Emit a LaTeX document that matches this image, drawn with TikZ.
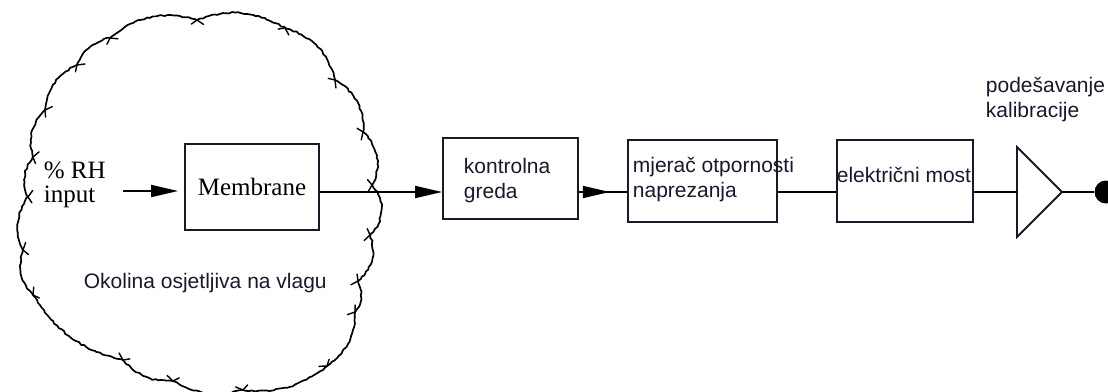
\documentclass[tikz,border=0pt]{standalone}
\usepackage{fontspec}
\setmainfont{Liberation Serif}
\newfontfamily\sansfam{Liberation Sans}
\usetikzlibrary{arrows.meta,calc,decorations.pathmorphing}
\definecolor{ink}{RGB}{25,25,45}
\begin{document}
\begin{tikzpicture}[x=1pt,y=-1pt,
  line width=1.8pt,
  boxnode/.style={draw=ink, inner sep=0pt, rectangle},
  sanstxt/.style={text=ink, inner sep=0pt, font=\sansfam\fontsize{21}{25}\selectfont, align=left},
  seriftxt/.style={text=black, inner sep=0pt, font=\fontsize{25}{24}\selectfont, align=left},
  arr/.style={-{Triangle[length=27pt,width=12pt]}},
  cloudline/.style={line width=1.7pt, draw=black, line join=round, decorate, decoration={random steps, segment length=3pt, amplitude=0.8pt}},
  tick/.style={line width=1.4pt, line cap=round}]
\useasboundingbox (0,0) rectangle (1108,391);
\fill[white] (0,0) rectangle (1108,391);
\pgfmathsetseed{11}
% cloud: arcs between cusps
\draw[cloudline]
 (110,38) to[bend left=28] (197,20) to[bend left=25] (285,28) to[bend left=30] (335,80)
 to[bend left=32] (363,132) to[bend left=38] (372,185) to[bend left=45] (370,235)
 to[bend left=35] (358,281) to[bend left=30] (355,312) to[bend left=28] (327,366)
 to[bend left=22] (243,390) to[bend left=22] (173,381) to[bend left=25] (123,360)
 to[bend left=22] (33,295) to[bend left=30] (23,250) to[bend left=30] (28,197)
 to[bend left=30] (33,157) to[bend left=30] (45,110) to[bend left=30] (77,65)
 to[bend left=28] (110,38);
% ticks at the cusps
\foreach \px/\py in {110/38, 197/20, 285/28, 335/80, 363/132, 372/185, 370/235, 358/281,
  355/312, 327/366, 243/390, 173/381, 123/360, 33/295, 23/250, 28/197, 33/157, 45/110, 77/65} {
  \pgfmathsetmacro\ang{atan2(\py-200,\px-200)}
  \draw[tick] (\px,\py) -- ++(\ang+125:8);
  \draw[tick] (\px,\py) -- ++(\ang-125:7);
}
% boxes
\node[boxnode, minimum width=134pt, minimum height=86pt, font=\fontsize{25}{25}\selectfont] (mem) at (252,187) {Membrane};
\node[boxnode, minimum width=135pt, minimum height=81pt] (kg) at (510.5,178.5) {};
\node[boxnode, minimum width=149pt, minimum height=82pt] (mj) at (702.5,181) {};
\node[boxnode, minimum width=136pt, minimum height=82pt] (el) at (905,181) {};
% texts
\node[seriftxt, anchor=north west] (rh) at (43,161) {\%~RH\\input};
\node[sanstxt, anchor=north west] (kgt) at (463,157) {kontrolna\\greda};
\node[sanstxt, anchor=north west] (mjt) at (632,156) {mjerač otpornosti\\naprezanja};
\node[sanstxt, anchor=base west] (elt) at (836,182) {električni most};
\node[sanstxt, anchor=north west] (cal) at (985,76) {podešavanje\\kalibracije};
\node[sanstxt, anchor=base west] (env) at (83,288) {Okolina osjetljiva na vlagu};
% amplifier triangle
\coordinate (ampin) at (1017,192);
\coordinate (ampout) at (1062,192);
\draw[draw=ink, line join=miter] (1017,147) -- (ampout) -- (1017,237) -- cycle;
\node[circle, fill=black, minimum size=23pt, inner sep=0pt] (dot) at (1106,192) {};
% connectors
\coordinate (yl) at (0,192);
\coordinate (rhin) at (123,191);
\draw[arr, shorten >=6pt] (rhin) -- (mem.west |- rhin);
\draw[arr] (mem.east |- yl) -- (kg.west |- yl);
\draw (kg.east |- yl) -- (mj.west |- yl);
\draw[arr] (kg.east |- yl) -- ($(kg.east |- yl)!0.64!(mj.west |- yl)$);
\draw (mj.east |- yl) -- (el.west |- yl);
\draw (el.east |- yl) -- (ampin);
\draw (ampout) -- (dot);
\end{tikzpicture}
\end{document}
